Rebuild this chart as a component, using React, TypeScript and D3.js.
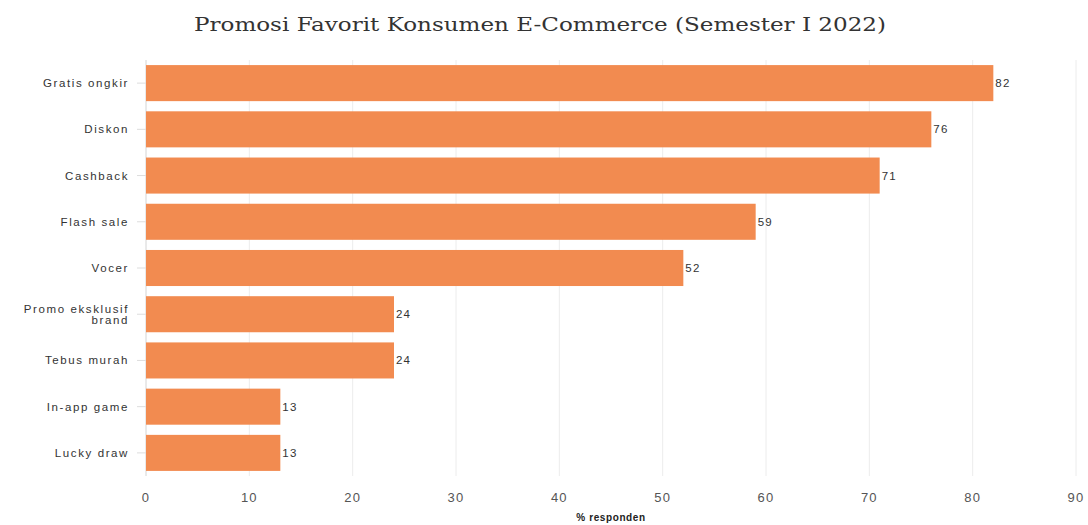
import * as React from 'react';
import * as d3 from 'd3';

const categories = [
  'Gratis ongkir',
  'Diskon',
  'Cashback',
  'Flash sale',
  'Vocer',
  'Promo eksklusif brand',
  'Tebus murah',
  'In-app game',
  'Lucky draw',
];
const values = [82, 76, 71, 59, 52, 24, 24, 13, 13];
const xTicks = [0, 10, 20, 30, 40, 50, 60, 70, 80, 90];
const title = 'Promosi Favorit Konsumen E-Commerce (Semester I 2022)';
const xTitle = '% responden';

// split long labels into two lines like the source
const labelLines = (s: string): string[] =>
  s === 'Promo eksklusif brand' ? ['Promo eksklusif', 'brand'] : [s];

const sans = "'Liberation Sans', Arial, sans-serif";

export default function App() {
  const width = 1088;
  const height = 525;
  const margin = { top: 60, right: 12, bottom: 49, left: 146 };

  const x = d3
    .scaleLinear()
    .domain([0, 90])
    .range([margin.left, width - margin.right]);

  const y = d3
    .scaleBand()
    .domain(categories)
    .range([margin.top, height - margin.bottom])
    .paddingInner(0.22)
    .paddingOuter(0.11);

  const data = categories.map((c, i) => ({ name: c, value: values[i] }));
  const mid = (name: string) => (y(name) ?? 0) + y.bandwidth() / 2;

  return (
    <svg
      width={width}
      height={height}
      style={{ position: 'fixed', left: 0, top: 0, display: 'block', background: '#fff' }}
    >
      <rect width={width} height={height} fill="#fff" />
      <text
        x={540}
        y={31}
        textAnchor="middle"
        fontFamily="'DejaVu Serif', serif"
        fontSize={18}
        fill="#333"
        textLength={692}
        lengthAdjust="spacingAndGlyphs"
      >
        {title}
      </text>

      {xTicks.map((t) => (
        <line
          key={t}
          x1={x(t)}
          x2={x(t)}
          y1={margin.top}
          y2={height - margin.bottom}
          stroke={t === 0 ? '#d4d4d4' : '#ececec'}
          strokeWidth={1}
        />
      ))}

      {data.map((d) => (
        <g key={d.name}>
          <rect
            x={x(0)}
            y={y(d.name)}
            width={x(d.value) - x(0)}
            height={y.bandwidth()}
            fill="#F28B50"
          />
          <text
            x={x(d.value) + 2}
            y={mid(d.name)}
            dy="0.35em"
            fontFamily={sans}
            fontSize={11.5}
            letterSpacing={1.2}
            fill="#333"
          >
            {d.value}
          </text>
          <line
            x1={margin.left - 9}
            x2={margin.left}
            y1={mid(d.name)}
            y2={mid(d.name)}
            stroke="#ddd"
          />
          {labelLines(d.name).map((ln, j, arr) => (
            <text
              key={ln}
              x={margin.left - 17}
              y={mid(d.name) + (j - (arr.length - 1) / 2) * 11}
              dy="0.35em"
              textAnchor="end"
              fontFamily={sans}
              fontSize={11.5}
              letterSpacing={1.6}
              fill="#333"
            >
              {ln}
            </text>
          ))}
        </g>
      ))}

      {xTicks.map((t) => (
        <text
          key={t}
          x={x(t)}
          y={497}
          dy="0.35em"
          textAnchor="middle"
          fontFamily={sans}
          fontSize={13}
          letterSpacing={1.2}
          fill="#555"
        >
          {t}
        </text>
      ))}

      <text
        x={(x(0) + x(90)) / 2}
        y={521}
        textAnchor="middle"
        fontFamily={sans}
        fontSize={10}
        fontWeight="bold"
        letterSpacing={0.6}
        fill="#222"
      >
        {xTitle}
      </text>
    </svg>
  );
}
